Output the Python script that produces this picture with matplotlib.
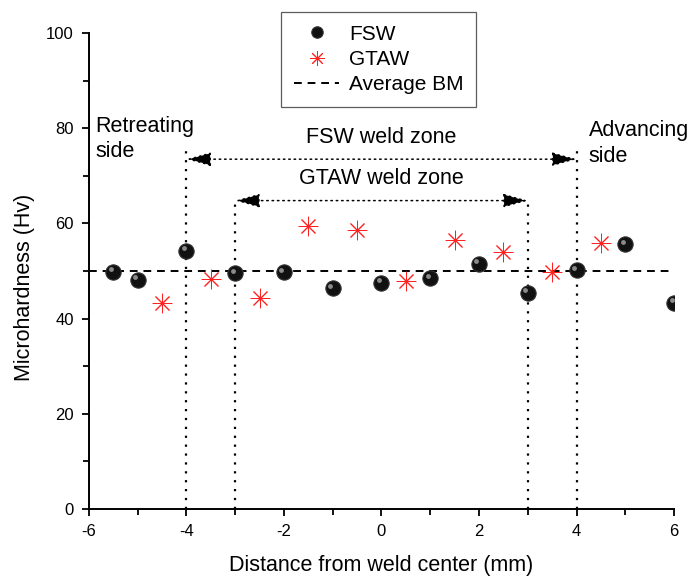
import matplotlib.pyplot as plt
from matplotlib.ticker import MultipleLocator
from matplotlib.transforms import offset_copy

plt.rcParams['font.family'] = ['Liberation Sans', 'DejaVu Sans']
plt.rcParams['axes.unicode_minus'] = False

# data
fsw_x = [-5.5, -5, -4, -3, -2, -1, 0, 1, 2, 3, 4, 5, 6]
fsw_y = [49.8, 48.2, 54.3, 49.5, 49.7, 46.4, 47.5, 48.5, 51.5, 45.4, 50.2, 55.6, 43.3]
gtaw_x = [-4.5, -3.5, -2.5, -1.5, -0.5, 0.5, 1.5, 2.5, 3.5, 4.5]
gtaw_y = [43.3, 48.3, 44.4, 59.5, 58.6, 48.0, 56.5, 54.1, 49.9, 55.9]
avg_bm = 50.0

fsw_zone = [-4, 4]
gtaw_zone = [-3, 3]

fig = plt.figure(figsize=(6.94, 5.79), dpi=100)
ax = fig.add_axes([0.1282, 0.1209, 0.843, 0.822])

ax.axhline(avg_bm, color="k", ls=(0, (4, 3)), lw=1.4, label="Average BM", zorder=2)
ax.plot(fsw_x, fsw_y, ls="none", marker="o", ms=11, mfc="#111111", mec="#333333",
        mew=0.8, label="FSW", zorder=4)
# small highlight to get the sphere look
hl = offset_copy(ax.transData, fig=fig, x=-2.5, y=2.5, units="dots")
ax.plot(fsw_x, fsw_y, ls="none", marker="o", ms=3.5, mfc="#8a8a8a", mec="none",
        transform=hl, zorder=5)
ax.plot(gtaw_x, gtaw_y, ls="none", marker=(8, 2, 0), ms=14, mec="#ff2020", mew=0.7,
        color="#ff2020", label="GTAW", zorder=3)

dot = (0, (1, 3))
for xv in fsw_zone:
    ax.plot([xv, xv], [0, 75.4], color="k", ls=dot, lw=1.6, zorder=1)
for xv in gtaw_zone:
    ax.plot([xv, xv], [0, 65], color="k", ls=dot, lw=1.6, zorder=1)

arrow = dict(arrowstyle="<|-|>,head_length=1.0,head_width=0.28", mutation_scale=15,
             ls=(0, (1, 2.5)), lw=1.1, color="k", shrinkA=0, shrinkB=0)
ax.annotate("", xy=(fsw_zone[0], 73.5), xytext=(fsw_zone[1], 73.5), arrowprops=arrow)
ax.annotate("", xy=(gtaw_zone[0], 64.8), xytext=(gtaw_zone[1], 64.8), arrowprops=arrow)

ax.text(0, 76.8, "FSW weld zone", ha="center", va="baseline", fontsize=15.5)
ax.text(0, 68.2, "GTAW weld zone", ha="center", va="baseline", fontsize=15.5)
ax.text(-5.87, 79.2, "Retreating", ha="left", va="baseline", fontsize=15.5)
ax.text(-5.87, 73.9, "side", ha="left", va="baseline", fontsize=15.5)
ax.text(4.25, 78.4, "Advancing", ha="left", va="baseline", fontsize=15.5)
ax.text(4.25, 73.0, "side", ha="left", va="baseline", fontsize=15.5)

ax.set_xlim(-6, 6)
ax.set_ylim(0, 100)
ax.xaxis.set_major_locator(MultipleLocator(2))
ax.xaxis.set_minor_locator(MultipleLocator(1))
ax.yaxis.set_major_locator(MultipleLocator(20))
ax.yaxis.set_minor_locator(MultipleLocator(10))
ax.tick_params(which="major", direction="out", length=5, width=1.3, labelsize=12, pad=6)
ax.tick_params(which="minor", direction="out", length=4, width=1.3)
ax.spines["top"].set_visible(False)
ax.spines["right"].set_visible(False)
ax.spines["left"].set_linewidth(1.4)
ax.spines["bottom"].set_linewidth(1.4)

ax.set_xlabel("Distance from weld center (mm)", fontsize=15.5, labelpad=11)
ax.set_ylabel("Microhardness (Hv)", fontsize=15.5)
ax.yaxis.set_label_coords(-0.092, 0.466)

handles, labels = ax.get_legend_handles_labels()
order = [1, 2, 0]
leg = fig.legend([handles[i] for i in order], [labels[i] for i in order],
                 loc="upper center", bbox_to_anchor=(0.5454, 0.979), borderaxespad=0,
                 fontsize=15, frameon=True, fancybox=False, edgecolor="#333333",
                 handlelength=2.2, handletextpad=0.45, borderpad=0.6,
                 labelspacing=0.3, markerscale=0.75)
leg.get_frame().set_linewidth(0.9)

fig.savefig("out.png", dpi=100)
